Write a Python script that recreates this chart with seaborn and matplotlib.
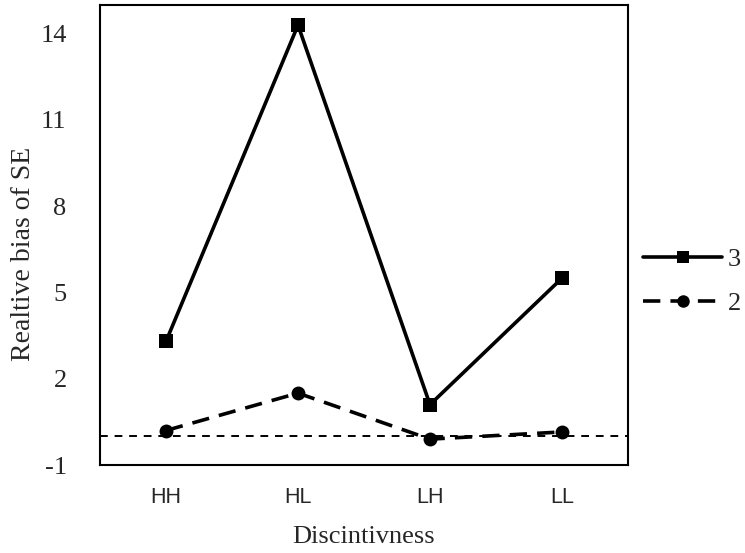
import matplotlib
matplotlib.use("Agg")
import matplotlib.pyplot as plt
import seaborn as sns
import pandas as pd

categories = ["HH", "HL", "LH", "LL"]
series_3 = [3.3, 14.3, 1.1, 5.5]
series_2 = [0.2, 1.5, -0.1, 0.15]
y_ticks = [-1, 2, 5, 8, 11, 14]

df = pd.DataFrame({
    "cat": categories * 2,
    "x": list(range(len(categories))) * 2,
    "val": series_3 + series_2,
    "series": ["3"] * 4 + ["2"] * 4,
})

sns.set_style("white")
plt.rcParams["font.family"] = ["Liberation Serif", "DejaVu Serif"]

fig = plt.figure(figsize=(7.45, 5.53), dpi=100)
ax = fig.add_axes([100/745, 1-465/553, 528/745, 460/553])

ax.axhline(0, color="black", lw=1.4, ls=(0, (4, 3.5)), zorder=1)

sns.lineplot(data=df, x="x", y="val", hue="series", style="series",
             hue_order=["3", "2"], style_order=["3", "2"],
             palette={"3": "black", "2": "black"},
             markers={"3": "s", "2": "o"},
             dashes={"3": "", "2": (4.8, 2.8)},
             markersize=10, linewidth=2.6, markeredgewidth=0,
             ax=ax, zorder=3)

ax.set_xlim(-0.5, 3.5)
ax.set_ylim(-1, 15)
ax.set_xticks(range(len(categories)))
ax.set_xticklabels(categories, fontfamily="Liberation Sans", fontsize=15.5)
ax.set_yticks(y_ticks)
ax.set_yticklabels([str(t) for t in y_ticks], fontsize=19)
ax.tick_params(axis="x", length=0, pad=16)
ax.tick_params(axis="y", length=0, pad=24)
ax.set_xlabel("Discintivness", fontsize=19, labelpad=13)
ax.set_ylabel("Realtive bias of SE", fontsize=20)
ax.yaxis.set_label_coords(-0.121, 0.46)
for s in ax.spines.values():
    s.set_color("black")
    s.set_linewidth(1.5)

leg = fig.legend(*ax.get_legend_handles_labels(), loc="center left",
                 bbox_to_anchor=(643/745, 1 - 281.5/553), frameon=False,
                 fontsize=19, handlelength=3.0, handletextpad=0.2,
                 labelspacing=0.78, borderpad=0, borderaxespad=0)
ax.get_legend().remove()
for h in leg.legend_handles:
    h.set_linewidth(2.6)
    h.set_markersize(9)

fig.savefig("out.png", dpi=100)
